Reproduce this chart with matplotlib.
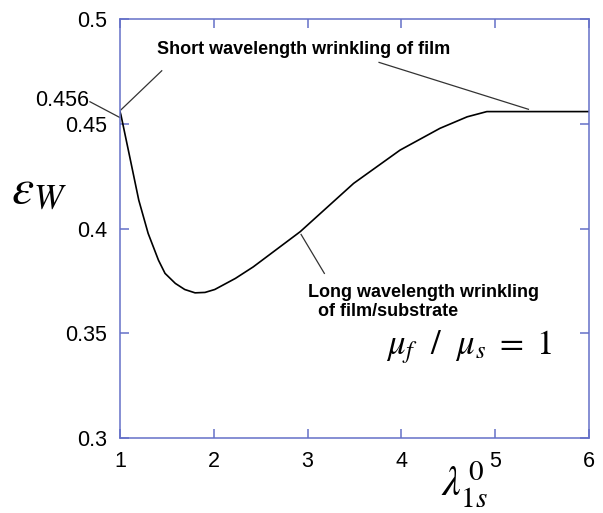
import numpy as np
import matplotlib.pyplot as plt

# curve
lam = [1.0, 1.01, 1.107, 1.20, 1.30, 1.41, 1.48, 1.59, 1.69, 1.80, 1.906, 2.01,
       2.23, 2.42, 2.92, 3.49, 3.985, 4.41, 4.70, 4.91, 6.0]
eps = [0.456, 0.4544, 0.4337, 0.4137, 0.3978, 0.385, 0.3787, 0.3739, 0.371,
       0.3694, 0.3696, 0.371, 0.3763, 0.3818, 0.3986, 0.4217, 0.4376, 0.448,
       0.4535, 0.456, 0.456]

xticks = [1, 2, 3, 4, 5, 6]
yticks = [0.3, 0.35, 0.4, 0.45, 0.5]
ytick_labels = ["0.3", "0.35", "0.4", "0.45", "0.5"]

spine_col = "#6470c8"
plt.rcParams["font.family"] = ["Liberation Sans", "DejaVu Sans"]
plt.rcParams["mathtext.fontset"] = "stix"

fig = plt.figure(figsize=(6.03, 5.13), dpi=100)
ax = fig.add_axes([0.199, 0.146, 0.778, 0.816])

ax.plot(lam, eps, color="black", lw=1.2)

ax.set_xlim(1, 6)
ax.set_ylim(0.3, 0.5)
ax.set_xticks(xticks)
ax.set_yticks(yticks)
ax.set_yticklabels(ytick_labels)
for s in ax.spines.values():
    s.set_color(spine_col)
    s.set_linewidth(1.1)
ax.tick_params(direction="in", length=6.5, width=1.1, color=spine_col,
               top=True, right=True, labelsize=15.5, pad=9)

# 0.456 label with leader to the axis
ax.text(0.673, 0.4615, "0.456", fontsize=15.5, ha="right", va="center",
        transform=ax.transData, clip_on=False)
ax.plot([0.68, 0.997], [0.4607, 0.4532], color="#333333", lw=0.9, clip_on=False)

# annotations
ax.text(1.394, 0.4858, "Short wavelength wrinkling of film", fontsize=13,
        fontweight="bold", ha="left", va="center")
ax.plot([1.007, 1.445], [0.4567, 0.4755], color="#333333", lw=0.9)
ax.plot([3.761, 5.353], [0.4795, 0.4571], color="#333333", lw=0.9)

ax.text(3.0, 0.3735, "Long wavelength wrinkling\n  of film/substrate", fontsize=13,
        fontweight="bold", ha="left", va="top", linespacing=1.15)
ax.plot([2.93, 3.178], [0.3973, 0.3787], color="#333333", lw=0.9)

ax.text(0.921, 0.217, r"$\mu_f\ \ /\ \ \mu_s\ =\ 1$", fontsize=25, ha="right",
        va="center", transform=ax.transAxes)

fig.text(0.018, 0.63, r"$\varepsilon_W$", fontsize=36, ha="left", va="center")
fig.text(0.77, 0.055, r"$\lambda_{1s}^{\,0}$", fontsize=30, ha="center", va="center")

fig.savefig("out.png", dpi=100)
